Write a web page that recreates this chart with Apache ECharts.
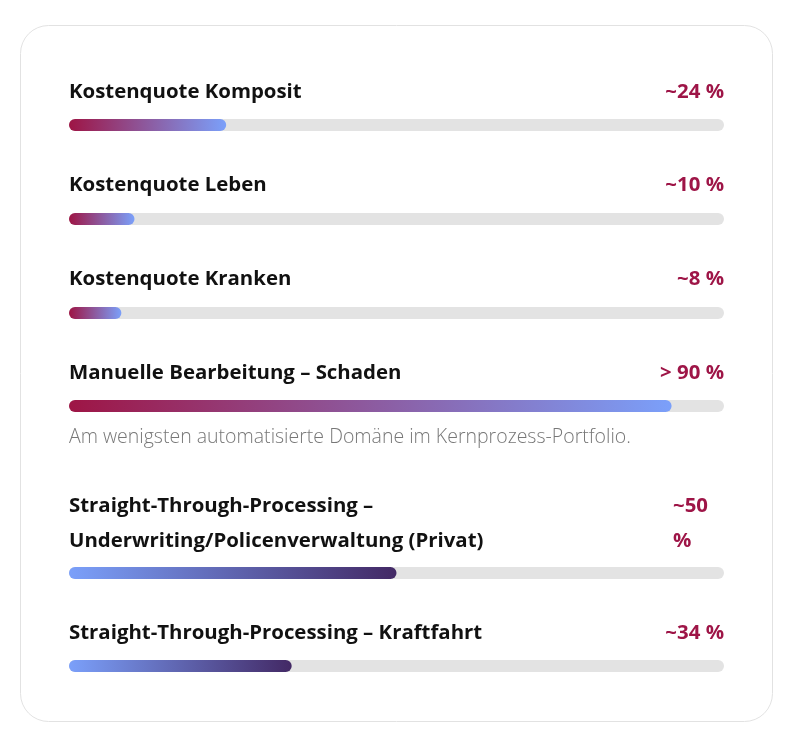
<!DOCTYPE html>
<html>
<head>
<meta charset="utf-8">
<script src="https://cdn.jsdelivr.net/npm/echarts@6/dist/echarts.min.js"></script>
<style>
  html, body { margin: 0; padding: 0; background: #fff; }
  #main { width: 805px; height: 742px; }
</style>
</head>
<body>
<div id="main"></div>
<script>
// Kennzahlen
var labels = [
    'Kostenquote Komposit',
    'Kostenquote Leben',
    'Kostenquote Kranken',
    'Manuelle Bearbeitung – Schaden',
    'Straight-Through-Processing –\nUnderwriting/Policenverwaltung (Privat)',
    'Straight-Through-Processing – Kraftfahrt'
];
var values = [24, 10, 8, 92, 50, 34];
var valueLabels = ['~24 %', '~10 %', '~8 %', '> 90 %', '~50\n%', '~34 %'];
var notes = ['', '', '', 'Am wenigsten automatisierte Domäne im Kernprozess-Portfolio.', '', ''];
var kinds = ['cost', 'cost', 'cost', 'cost', 'stp', 'stp'];

var chart = echarts.init(document.getElementById('main'));

// Layout
var left = 69, width = 655, right = left + width;
var barY = [125, 219, 313, 406, 573, 666];
var labelY = [91, 184, 278, 372, 505, 632];
var font = '"Open Sans", "Noto Sans", sans-serif';
var red = '#9e1547';

var gradients = {
    cost: ['#9e1545', '#7ba0fa'],
    stp: ['#7ba0fa', '#432965']
};

var grids = [], xAxes = [], yAxes = [], series = [];
var graphic = [{
    type: 'rect',
    shape: { x: 20.5, y: 25.5, width: 752, height: 696, r: 28 },
    style: { fill: '#fff', stroke: '#e2e2e2', lineWidth: 1 },
    z: -10
}];

values.forEach(function (v, i) {
    grids.push({ left: left, width: width, top: barY[i] - 6, height: 12 });
    xAxes.push({ type: 'value', gridIndex: i, min: 0, max: 100, show: false });
    yAxes.push({ type: 'category', gridIndex: i, data: [labels[i]], show: false });
    var c = gradients[kinds[i]];
    series.push({
        type: 'bar',
        xAxisIndex: i,
        yAxisIndex: i,
        data: [v],
        barWidth: 12,
        showBackground: true,
        backgroundStyle: { color: '#e3e3e3', borderRadius: 6 },
        itemStyle: {
            borderRadius: 6,
            color: new echarts.graphic.LinearGradient(0, 0, 1, 0, [
                { offset: 0, color: c[0] },
                { offset: 1, color: c[1] }
            ])
        },
        silent: true,
        animation: false
    });

    // mehrzeilige Labels: erste Zeile auf labelY
    var nLines = labels[i].split('\n').length;
    graphic.push({
        type: 'text',
        style: {
            text: labels[i],
            x: left,
            y: labelY[i] + 17.5 * (nLines - 1) + 1,
            font: 'bold 20.4px ' + font,
            fill: '#111',
            lineHeight: 35,
            textVerticalAlign: 'middle'
        }
    });
    var nVal = valueLabels[i].split('\n').length;
    graphic.push({
        type: 'text',
        style: {
            text: valueLabels[i],
            x: nVal > 1 ? 673 : right,
            y: labelY[i] + 17.5 * (nVal - 1) + 1,
            font: 'bold 20.4px ' + font,
            fill: red,
            lineHeight: 35,
            textAlign: nVal > 1 ? 'left' : 'right',
            textVerticalAlign: 'middle'
        }
    });
    if (notes[i]) {
        graphic.push({
            type: 'text',
            style: {
                text: notes[i],
                x: left,
                y: barY[i] + 31,
                font: '300 19.5px ' + font,
                fill: '#777',
                textVerticalAlign: 'middle'
            }
        });
    }
});

chart.setOption({
    animation: false,
    grid: grids,
    xAxis: xAxes,
    yAxis: yAxes,
    series: series,
    graphic: graphic
});

window.addEventListener('resize', function () {
    chart.resize();
});
</script>
</body>
</html>
